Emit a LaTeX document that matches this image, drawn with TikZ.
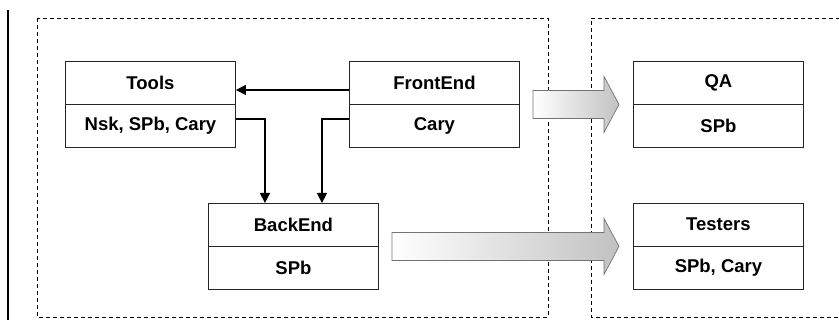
\documentclass[tikz,border=0pt]{standalone}
\usepackage{fontspec}
\setmainfont{Liberation Sans}
\usetikzlibrary{calc,arrows.meta}

% Block arrow from a start point to a tip point (same height)
\newcommand\flowarrow[2]{%
  \draw[blockarrow] ($(#1)+(0,-14)$) -- ($(#2)+(-15,-14)$) -- ($(#2)+(-15,-28)$)
    -- (#2) -- ($(#2)+(-15,28)$) -- ($(#2)+(-15,14)$) -- ($(#1)+(0,14)$) -- cycle;}

\begin{document}
\begin{tikzpicture}[x=1pt,y=-1pt,
  box/.style={draw=black!85, line width=0.9pt, fill=white, minimum width=170pt,
    minimum height=86pt, inner sep=0pt, anchor=north west},
  lbl/.style={font=\fontsize{18.5}{20}\selectfont\bfseries, inner sep=0pt},
  conn/.style={line width=1.4pt, -{Triangle[length=10pt,width=10pt]}},
  group/.style={dash pattern=on 4pt off 3pt, line width=0.7pt},
  blockarrow/.style={draw=black!55, line width=0.7pt, left color=white, right color=black!24},
]
\useasboundingbox (0,0) rectangle (839,320);

% margin rule and the two dashed groups
\draw[line width=2pt] (8,10) -- (8,320);
\draw[group] (37,18) rectangle (548,317);
\draw[group] (840,18) -- (591,18) -- (591,317) -- (840,317);

% component boxes
\node[box] (tools) at (65,61) {};
\node[box] (fe) at (349,61) {};
\node[box] (be) at (208,203) {};
\node[box] (qa) at (633,61) {};
\node[box] (ts) at (633,203) {};

\foreach \b/\t/\s in {tools/Tools/{Nsk, SPb, Cary}, fe/FrontEnd/Cary, be/BackEnd/SPb,
                      qa/QA/SPb, ts/Testers/{SPb, Cary}}{
  \draw[draw=black!85, line width=0.9pt] (\b.west) -- (\b.east);
  \node[lbl] (\b-name) at ($(\b.north)!0.25!(\b.south)$) {\t};
  \node[lbl] (\b-site) at ($(\b.north)!0.75!(\b.south)$) {\s};
}

% dependencies
\draw[conn] ($(fe.north west)!1/3!(fe.south west)$) -- ($(tools.north east)!1/3!(tools.south east)$);
\draw[conn] ($(tools.north east)!2/3!(tools.south east)$) -| ($(be.north west)!1/3!(be.north east)$);
\draw[conn] ($(fe.north west)!2/3!(fe.south west)$) -| ($(be.north west)!2/3!(be.north east)$);

% hand-over arrows
\coordinate (a1) at ($(fe.east)+(13,0)$);
\coordinate (t1) at ($(qa.west)+(-14,0)$);
\coordinate (a2) at ($(be.east)+(13,0)$);
\coordinate (t2) at ($(ts.west)+(-14,0)$);
\flowarrow{a1}{t1}
\flowarrow{a2}{t2}
\end{tikzpicture}
\end{document}
